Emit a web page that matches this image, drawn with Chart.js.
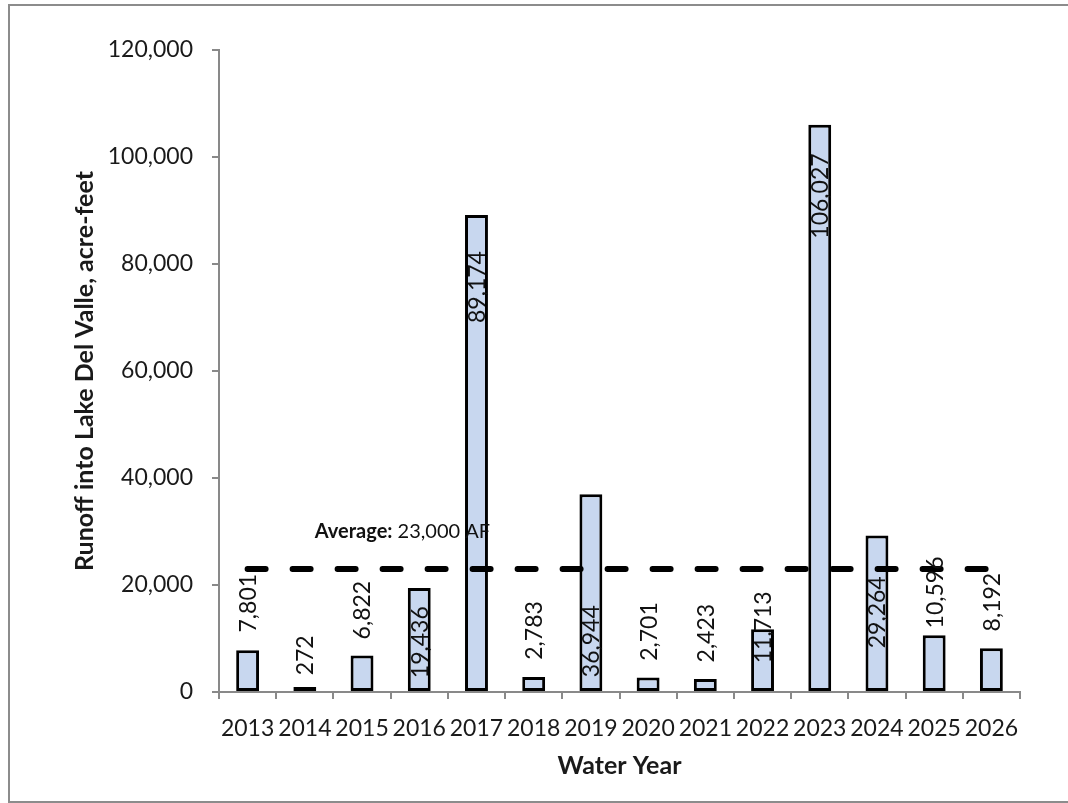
<!DOCTYPE html>
<html>
<head>
<meta charset="utf-8">
<script src="https://cdn.jsdelivr.net/npm/chart.js@4/dist/chart.umd.min.js"></script>
<style>
  html, body { margin: 0; padding: 0; background: #fff; }
  #wrap { position: relative; width: 1068px; height: 803px; }
</style>
</head>
<body>
<div id="wrap"><canvas id="c" width="1068" height="803"></canvas></div>
<script>
const years = ['2013','2014','2015','2016','2017','2018','2019','2020','2021','2022','2023','2024','2025','2026'];
const runoff = [7801, 272, 6822, 19436, 89174, 2783, 36944, 2701, 2423, 11713, 106027, 29264, 10596, 8192];
const averageAF = 23000;
const averageSeries = years.map(() => averageAF);
const yTicks = [0, 20000, 40000, 60000, 80000, 100000, 120000];

const FONT = 'Lato, "Open Sans", sans-serif';

const framePlugin = {
  id: 'frame',
  beforeDraw(chart) {
    const ctx = chart.ctx;
    ctx.save();
    ctx.fillStyle = '#fff';
    ctx.fillRect(0, 0, chart.width, chart.height);
    ctx.strokeStyle = '#8c8c8c';
    ctx.lineWidth = 2;
    ctx.strokeRect(9, 5, 1070, 797);
    ctx.restore();
  }
};

const barLabelPlugin = {
  id: 'barLabels',
  afterDatasetsDraw(chart, args, opts) {
    const ctx = chart.ctx;
    const meta = chart.getDatasetMeta(0);
    const yScale = chart.scales.y;
    ctx.save();
    ctx.font = '23px ' + FONT;
    ctx.fillStyle = '#111';
    ctx.textAlign = 'center';
    ctx.textBaseline = 'middle';
    meta.data.forEach((bar, i) => {
      const v = runoff[i];
      const cy = yScale.getPixelForValue(opts.centers[i]);
      ctx.save();
      ctx.translate(bar.x + 1, cy);
      ctx.rotate(-Math.PI / 2);
      ctx.fillText(v.toLocaleString('en-US'), 0, 0);
      ctx.restore();
    });
    // Average annotation
    const xScale = chart.scales.x;
    const ax = xScale.getPixelForValue(1) + 10;
    const ay = yScale.getPixelForValue(opts.avgLabelAt);
    ctx.textAlign = 'left';
    ctx.font = 'bold 20px ' + FONT;
    const b = 'Average:';
    ctx.fillText(b, ax, ay);
    const w = ctx.measureText(b).width;
    ctx.font = '20px ' + FONT;
    ctx.fillText(' ' + averageAF.toLocaleString('en-US') + ' AF', ax + w, ay);
    ctx.restore();
  }
};

function barFill(context) {
  const chart = context.chart;
  const el = context.element;
  if (!el || el.x === undefined || isNaN(el.x)) return '#c8d7ef';
  const half = (el.width || 22) / 2;
  const g = chart.ctx.createLinearGradient(el.x - half, 0, el.x + half, 0);
  g.addColorStop(0, '#bccdea');
  g.addColorStop(0.5, '#d9e3f4');
  g.addColorStop(1, '#bccdea');
  return g;
}

new Chart(document.getElementById('c'), {
  data: {
    labels: years,
    datasets: [
      {
        type: 'bar',
        data: runoff,
        backgroundColor: '#c8d7ef',
        borderColor: '#000',
        borderWidth: 3,
        borderSkipped: false,
        minBarLength: 5,
        barPercentage: 0.4,
        categoryPercentage: 1.0,
        order: 2
      },
      {
        type: 'line',
        data: averageSeries,
        borderColor: '#000',
        borderWidth: 6,
        borderDash: [18, 27],
        borderCapStyle: 'round',
        pointRadius: 0,
        fill: false,
        order: 1
      }
    ]
  },
  options: {
    responsive: false,
    animation: false,
    devicePixelRatio: 1,
    layout: { padding: { top: 50, right: 48, left: 0, bottom: 0 } },
    plugins: {
      legend: { display: false },
      tooltip: { enabled: false },
      barLabels: {
        centers: [16600, 6860, 15300, 9300, 75700, 11500, 9500, 11300, 11000, 12100, 92700, 14900, 18600, 16800],
        avgLabelAt: 30000
      }
    },
    scales: {
      x: {
        offset: true,
        grid: { display: true, drawOnChartArea: false, offset: true, tickLength: 7, color: '#898989', lineWidth: 2 },
        border: { display: true, color: '#898989', width: 2 },
        ticks: { font: { family: FONT, size: 23 }, color: '#1a1a1a', padding: 16, maxRotation: 0, autoSkip: false },
        title: { display: true, text: 'Water Year', font: { family: FONT, size: 25, weight: 'bold' }, color: '#1a1a1a', padding: { top: 4, bottom: 22 } },
        afterFit(s) { s.height = 803 - 692; }
      },
      y: {
        min: 0, max: 120000,
        afterBuildTicks(s) { s.ticks = yTicks.map(v => ({ value: v })); },
        grid: { display: true, drawOnChartArea: false, tickLength: 7, color: '#898989', lineWidth: 2 },
        border: { display: true, color: '#898989', width: 2 },
        ticks: { font: { family: FONT, size: 23 }, color: '#1a1a1a', padding: 19, callback: v => v.toLocaleString('en-US') },
        title: { display: true, text: 'Runoff into Lake Del Valle, acre-feet', font: { family: FONT, size: 25, weight: 'bold' }, color: '#1a1a1a', padding: { top: 70, bottom: 0 } },
        afterFit(s) { s.width = 219; }
      }
    }
  },
  plugins: [framePlugin, barLabelPlugin]
});
</script>
</body>
</html>
